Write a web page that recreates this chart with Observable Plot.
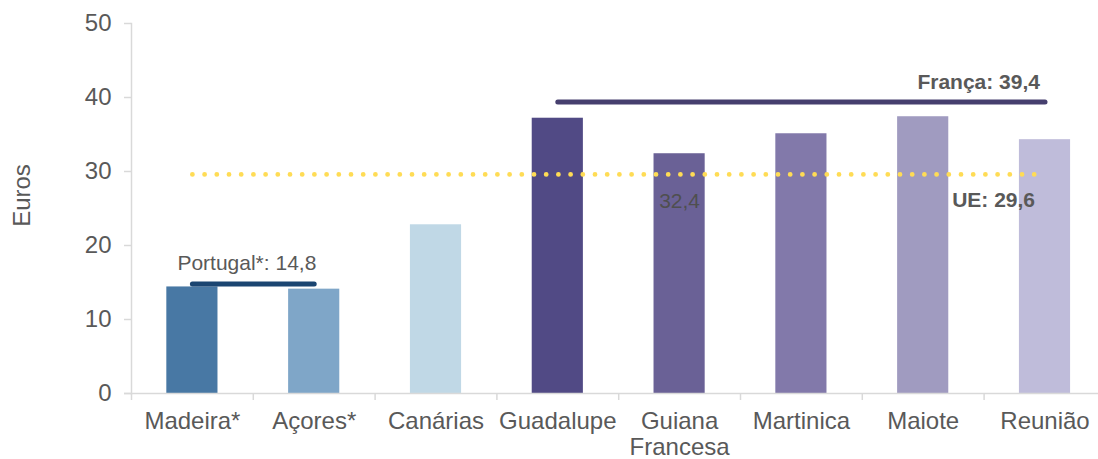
<!DOCTYPE html>
<html><head><meta charset="utf-8">
<script src="https://cdn.jsdelivr.net/npm/d3@7"></script>
<script src="https://cdn.jsdelivr.net/npm/@observablehq/plot@0.6"></script>
<style>body{margin:0;background:#fff} svg{display:block}</style>
</head><body><div id="chart"></div>
<script>
const categories = ["Madeira*","Açores*","Canárias","Guadalupe","Guiana\nFrancesa","Martinica","Maiote","Reunião"];
const values = [14.4, 14.1, 22.8, 37.2, 32.4, 35.1, 37.4, 34.3];
const barColors = ["#4878a4","#7fa6c8","#c0d8e6","#514a85","#6a6196","#8279aa","#a09bc0","#bfbcda"];
const yTicks = [0,10,20,30,40,50];
const franceAvg = 39.4, portugalAvg = 14.8, euAvg = 29.6;
const guianaValue = 32.4;

const fmt = v => v.toFixed(1).replace(".", ",");
const data = categories.map((c,i)=>({cat:c, value: values[i], color: barColors[i]}));
const W=1098, H=459, mL=131, mT=23, mB=66;
const xStart=131, xEnd=1105.4;
const step=(xEnd-xStart)/categories.length;
const font = "'Liberation Sans', Arial, sans-serif";
const gray="#595959", axisGray="#d9d9d9";

const chart = Plot.plot({
  width: W, height: H, marginLeft: mL, marginTop: mT, marginBottom: mB, marginRight: 0,
  style: {fontFamily: font, background: "#fff", overflow: "hidden"},
  x: {domain: categories, range: [xStart, xEnd], paddingInner: 0.58, paddingOuter: 0.29, round: false},
  y: {domain: [0,50]},
  marks: [
    Plot.barY(data, {x:"cat", y:"value", fill:"color"}),
    Plot.frame({anchor:"left", stroke: axisGray, strokeWidth:1.5}),
    Plot.ruleY([0], {stroke: axisGray, strokeWidth:1.5, insetLeft:-7}),
    Plot.ruleX(categories, {x: d=>d, y1: 0, y2: -0.95, dx: -step/2, stroke: axisGray, strokeWidth:1.5}),
    Plot.axisY({ticks: yTicks, tickSize: 7, tickPadding: 13, fontSize: 24, stroke: axisGray, strokeWidth:1.5, fill: gray, label: null}),
    Plot.axisX({tickSize: 0, tickPadding: 17, fontSize: 24, fill: gray, label: null, lineHeight: 1.08}),
    Plot.text(["Euros"], {frameAnchor:"left", textAnchor:"middle", rotate:-90, dx:-109, dy:-13, fontSize:24, fill:gray}),
    Plot.link([euAvg], {x1: ()=>"Madeira*", x2: ()=>"Reunião", y1: d=>d, y2: d=>d, stroke:"#ffdc55", strokeWidth:4.8, strokeDasharray:"0 12.2", strokeLinecap:"round"}),
    Plot.link([franceAvg], {x1: ()=>"Guadalupe", x2: ()=>"Reunião", y1: d=>d, y2: d=>d, stroke:"#463f6e", strokeWidth:5, strokeLinecap:"round"}),
    Plot.link([portugalAvg], {x1: ()=>"Madeira*", x2: ()=>"Açores*", y1: d=>d, y2: d=>d, stroke:"#1b4571", strokeWidth:5, strokeLinecap:"round"}),
    Plot.text([franceAvg], {x: ()=>"Reunião", y: d=>d, text: d=>"França: "+fmt(d), textAnchor:"end", dx:-5, dy:-20, fontWeight:"bold", fontSize:21, fill:gray}),
    Plot.text([euAvg], {x: ()=>"Reunião", y: d=>d, text: d=>"UE: "+fmt(d), textAnchor:"end", dx:-10, dy:26, fontWeight:"bold", fontSize:21, fill:gray}),
    Plot.text([portugalAvg], {x: ()=>"Madeira*", y: d=>d, text: d=>"Portugal*: "+fmt(d), textAnchor:"start", dx:-15, dy:-21, fontSize:21, fill:gray}),
    Plot.text([guianaValue], {x: ()=>"Guiana\nFrancesa", y: d=>d, text: d=>fmt(d), dy:48, fontSize:21, fill:"#4f4f4f"})
  ]
});
document.getElementById("chart").appendChild(chart);
</script>
</body></html>
